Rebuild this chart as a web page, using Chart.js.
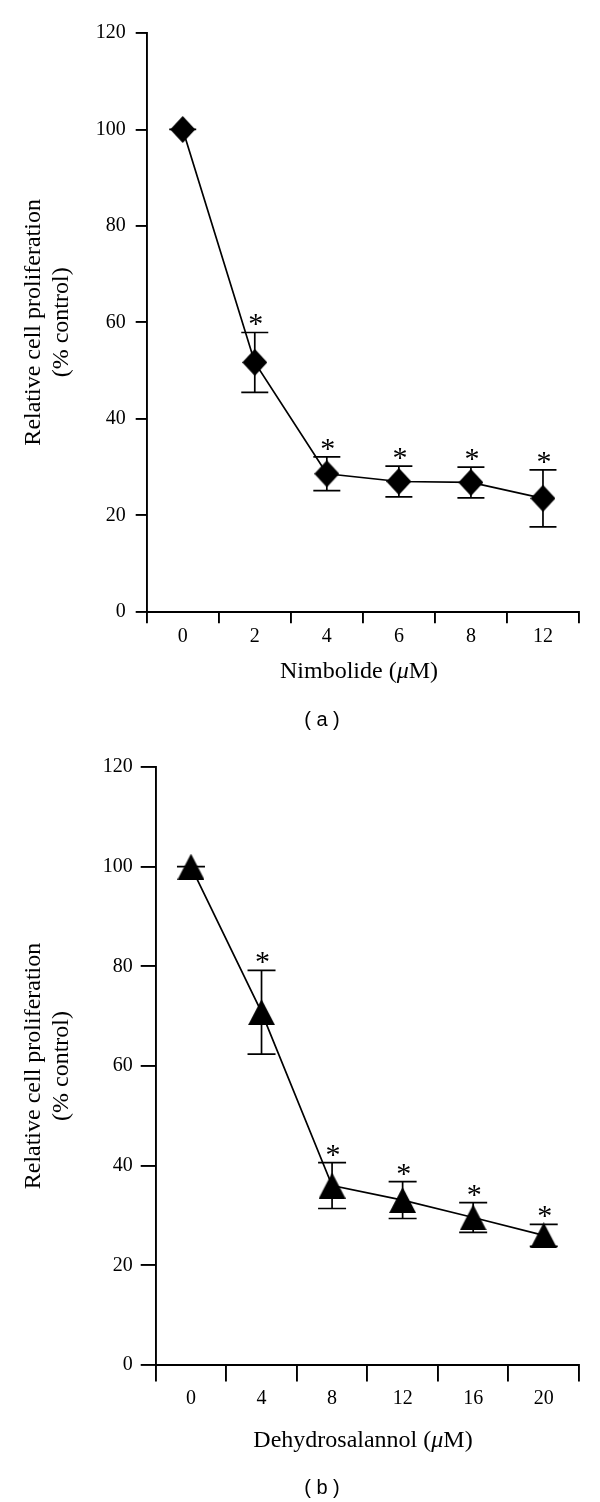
<!DOCTYPE html>
<html><head><meta charset="utf-8">
<script src="https://cdn.jsdelivr.net/npm/chart.js@4/dist/chart.umd.min.js"></script>
<style>
html,body{margin:0;padding:0;background:#fff;width:600px;height:1502px;overflow:hidden;position:relative}
canvas{position:absolute;left:0}
.lbl{position:absolute;width:600px;text-align:center;color:#000;white-space:nowrap}
.xt{font-family:"Liberation Serif","Times New Roman",serif;font-size:24px;line-height:28px}
.pl{font-family:"Liberation Sans",Arial,sans-serif;font-size:20px;line-height:24px}
</style></head><body>
<canvas id="ca" width="600" height="740" style="top:0"></canvas>
<canvas id="cb" width="600" height="762" style="top:740px"></canvas>
<div class="lbl xt" style="top:656px;left:59px">Nimbolide (<i>μ</i>M)</div>
<div class="lbl pl" style="top:707px;left:22px">( a )</div>
<div class="lbl xt" style="top:1425px;left:63px">Dehydrosalannol (<i>μ</i>M)</div>
<div class="lbl pl" style="top:1475px;left:22px">( b )</div>
<script>
// ---- data ----
const catsA = ['0', '2', '4', '6', '8', '12'];
const meanA = [100, 51.7, 28.6, 27.0, 26.8, 23.5];
const errA  = [0, 6.2, 3.5, 3.2, 3.2, 5.9];
const sigA  = [false, true, true, true, true, true];

const catsB = ['0', '4', '8', '12', '16', '20'];
const meanB = [100, 70.8, 36.0, 33.1, 29.6, 26.0];
const errB  = [0, 8.4, 4.6, 3.7, 3.0, 2.2];
const sigB  = [false, true, true, true, true, true];

const yTicks = [0, 20, 40, 60, 80, 100, 120];
const yTitle = ['Relative cell proliferation', '(% control)'];

// ---- marker images ----
function diamond(w, h) {
  const c = document.createElement('canvas'); c.width = w; c.height = h;
  const g = c.getContext('2d'); g.fillStyle = '#000';
  g.beginPath(); g.moveTo(w / 2, 0); g.lineTo(w, h / 2); g.lineTo(w / 2, h); g.lineTo(0, h / 2); g.closePath(); g.fill();
  return c;
}
function triangle(w, h) {
  const c = document.createElement('canvas'); c.width = w; c.height = h;
  const g = c.getContext('2d'); g.fillStyle = '#000';
  g.beginPath(); g.moveTo(w / 2, 0); g.lineTo(w, h); g.lineTo(0, h); g.closePath(); g.fill();
  return c;
}

const SERIF = '"Liberation Serif", "Times New Roman", serif';

const errPlugin = {
  id: 'errbars',
  beforeDatasetsDraw(chart, args, o) {
    const { ctx, scales: { x, y } } = chart;
    ctx.save(); ctx.strokeStyle = '#000'; ctx.lineWidth = o.lw;
    o.means.forEach((m, i) => {
      const px = x.getPixelForValue(i);
      const t = y.getPixelForValue(m + o.errs[i]);
      const b = y.getPixelForValue(m - o.errs[i]);
      ctx.beginPath();
      ctx.moveTo(px, t); ctx.lineTo(px, b);
      ctx.moveTo(px - o.cap, t); ctx.lineTo(px + o.cap, t);
      ctx.moveTo(px - o.cap, b); ctx.lineTo(px + o.cap, b);
      ctx.stroke();
    });
    ctx.restore();
  },
  afterDatasetsDraw(chart, args, o) {
    const { ctx, scales: { x, y } } = chart;
    ctx.save(); ctx.fillStyle = '#000';
    ctx.font = '30px ' + SERIF; ctx.textAlign = 'center'; ctx.textBaseline = 'alphabetic';
    o.means.forEach((m, i) => {
      if (!o.sig[i]) return;
      const px = x.getPixelForValue(i);
      const t = y.getPixelForValue(m + o.errs[i]);
      ctx.fillText('*', px + 1, t + 1);
    });
    ctx.restore();
  }
};

function makeChart(id, cats, means, errs, sig, c) {
  return new Chart(document.getElementById(id), {
    type: 'line',
    data: {
      labels: cats,
      datasets: [{
        data: means, borderColor: '#000', borderWidth: 1.7, backgroundColor: '#000',
        pointStyle: c.marker, pointRadius: 12, pointHoverRadius: 12, tension: 0, clip: false
      }]
    },
    plugins: [errPlugin],
    options: {
      responsive: false, animation: false, events: [],
      layout: { padding: { left: 0, right: 21, top: c.top, bottom: 0 } },
      plugins: {
        legend: { display: false }, tooltip: { enabled: false },
        errbars: { means: means, errs: errs, sig: sig, cap: c.cap, lw: 1.7 }
      },
      scales: {
        x: {
          type: 'category', offset: true,
          grid: { offset: true, drawOnChartArea: false, drawTicks: true, tickLength: c.xTick, color: '#000', lineWidth: 1.9 },
          border: { display: true, color: '#000', width: 1.9 },
          ticks: { color: '#000', font: { family: SERIF, size: 20 }, padding: c.xPad, maxRotation: 0, autoSkip: false },
          afterFit: s => { s.height = c.xH; }
        },
        y: {
          min: 0, max: 120,
          afterBuildTicks: s => { s.ticks = yTicks.map(v => ({ value: v })); },
          grid: { drawOnChartArea: false, drawTicks: true, tickLength: c.yTick, color: '#000', lineWidth: 1.9 },
          border: { display: true, color: '#000', width: 1.9 },
          ticks: { color: '#000', font: { family: SERIF, size: 20 }, padding: c.yPad },
          title: { display: true, text: yTitle, color: '#000', font: { family: SERIF, size: 24, lineHeight: 1.15 }, padding: { top: c.titleX, bottom: 0 } },
          afterFit: s => { s.width = c.yW; }
        }
      }
    }
  });
}

makeChart('ca', catsA, meanA, errA, sigA, {
  marker: diamond(25, 27), top: 33, cap: 13.5, xTick: 11.5, yTick: 11, xPad: 2, yPad: 10, xH: 128.3, yW: 146.7, titleX: 20
});
makeChart('cb', catsB, meanB, errB, sigB, {
  marker: triangle(27, 26), top: 27, cap: 14, xTick: 16.5, yTick: 15, xPad: 5, yPad: 8, xH: 137, yW: 155.7, titleX: 20
});
</script>
</body></html>
